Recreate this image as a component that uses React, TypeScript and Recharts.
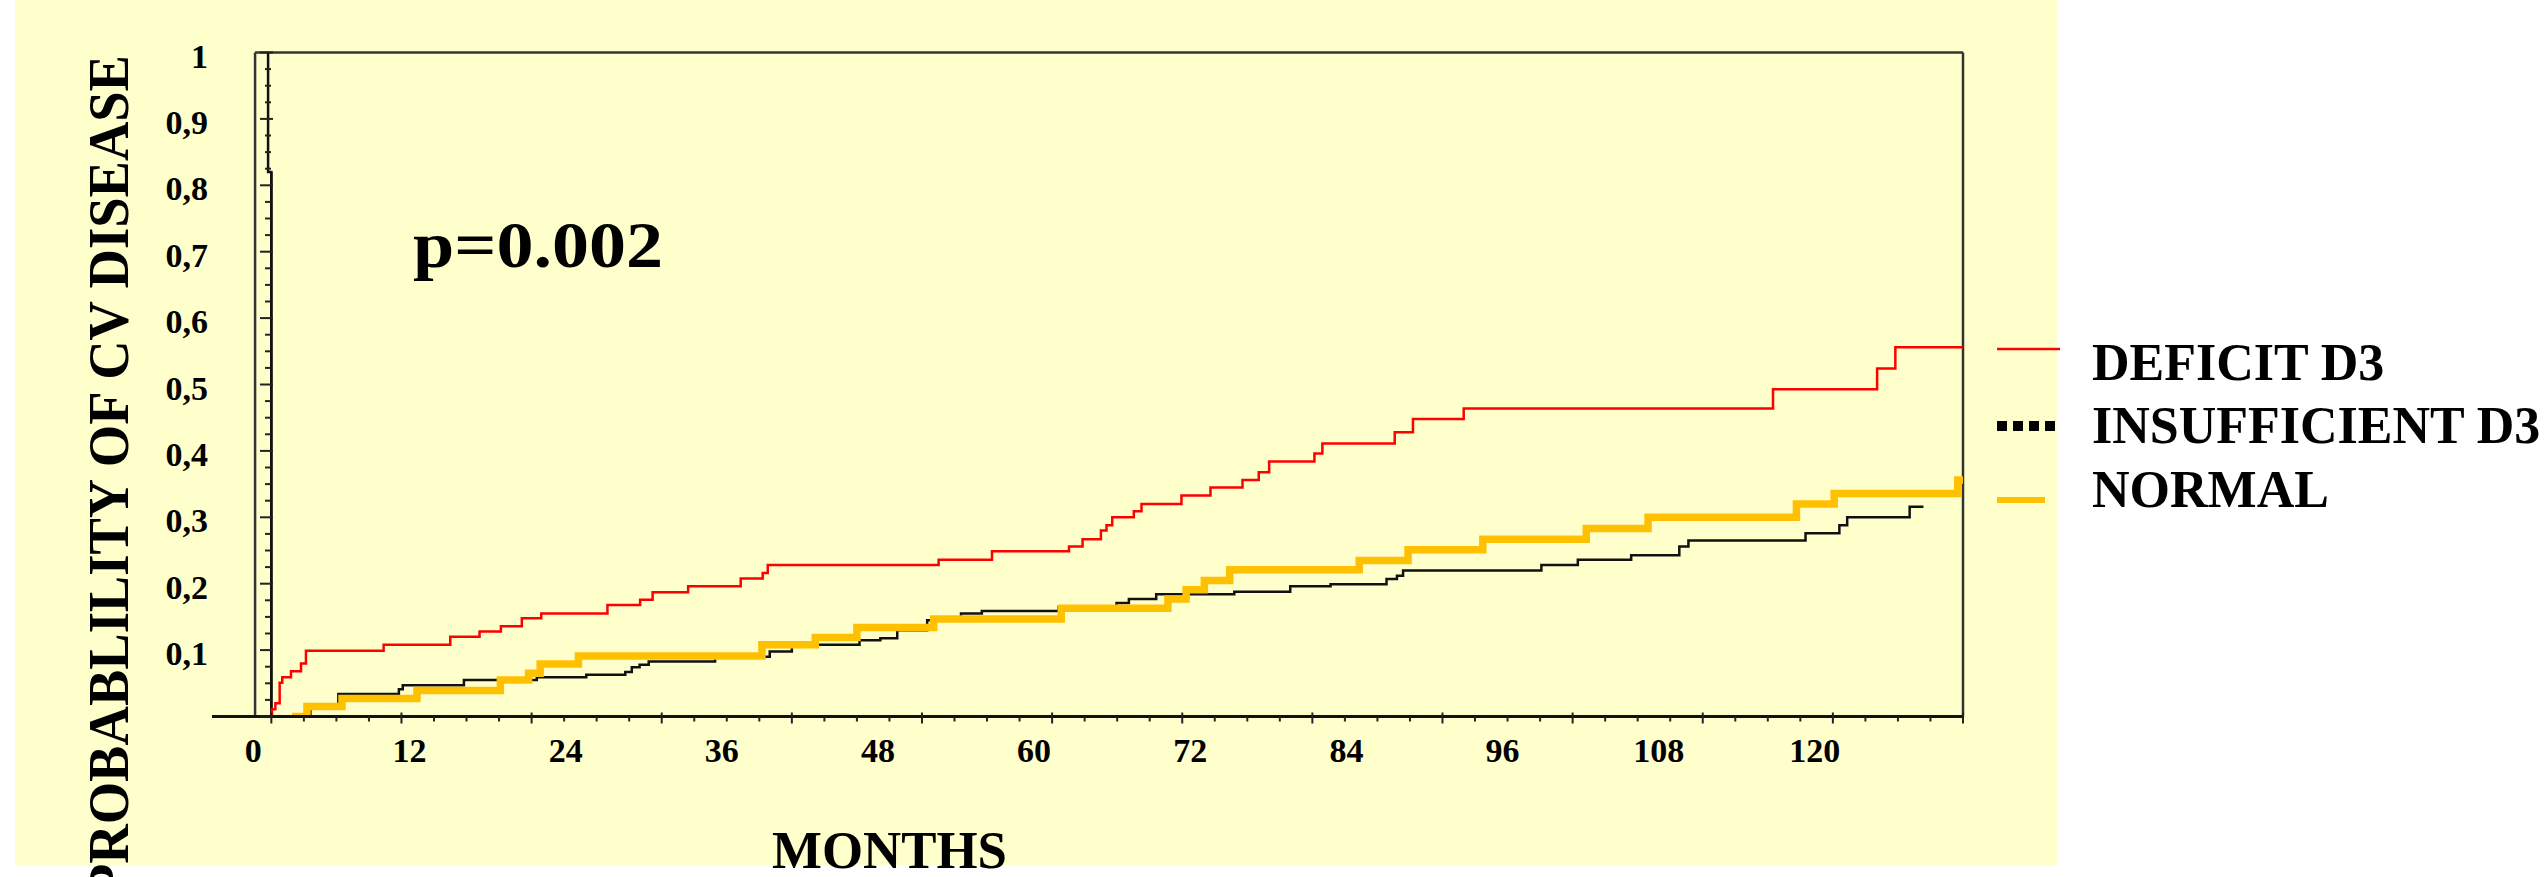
import React from "react";
import { LineChart, Line, XAxis, YAxis, ReferenceLine } from "recharts";

// ---------- data ----------
const DEFICIT_MONTHS = [0, 0.05, 0.31, 0.64, 0.84, 1.51, 2.28, 2.66, 8.63, 13.75, 16.0, 17.64, 19.25, 20.74, 25.83, 28.34, 29.3, 32.03, 36.07, 37.76, 38.15, 51.28, 55.38, 61.3, 62.34, 63.75, 64.18, 64.62, 66.28, 66.87, 69.94, 72.17, 74.63, 75.88, 76.68, 80.16, 80.77, 86.33, 87.73, 91.63, 115.4, 123.4, 124.8, 130];
const DEFICIT_PROB = [0, 0.011, 0.02, 0.051, 0.059, 0.068, 0.08, 0.099, 0.108, 0.12, 0.128, 0.136, 0.148, 0.155, 0.168, 0.176, 0.187, 0.196, 0.208, 0.216, 0.228, 0.236, 0.249, 0.256, 0.267, 0.28, 0.288, 0.3, 0.309, 0.32, 0.333, 0.345, 0.356, 0.368, 0.384, 0.396, 0.411, 0.428, 0.448, 0.464, 0.493, 0.524, 0.556, 0.556];

const INSUFF_MONTHS = [-0.25, -0.25, 0, 0, 3.0, 5.15, 9.8, 10.1, 14.8, 20.4, 24.2, 27.2, 27.7, 28.3, 29.0, 34.1, 38.3, 40.0, 45.2, 46.8, 48.1, 50.4, 53.0, 54.6, 60.5, 64.95, 65.9, 68.0, 74.0, 78.3, 81.4, 85.7, 86.5, 86.97, 97.6, 100.4, 104.5, 108.2, 108.9, 117.9, 120.5, 121.1, 125.9, 126.96];
const INSUFF_PROB = [1, 0.82, 0.82, 0, 0.015, 0.034, 0.041, 0.047, 0.055, 0.059, 0.063, 0.067, 0.074, 0.078, 0.083, 0.09, 0.098, 0.108, 0.115, 0.118, 0.13, 0.145, 0.155, 0.159, 0.165, 0.171, 0.177, 0.184, 0.188, 0.196, 0.199, 0.207, 0.212, 0.22, 0.228, 0.236, 0.243, 0.256, 0.265, 0.276, 0.288, 0.3, 0.316, 0.316];

const NORMAL_MONTHS = [1.59, 2.74, 5.43, 11.19, 17.6, 19.77, 20.66, 23.6, 37.7, 41.8, 45.0, 50.9, 60.7, 68.9, 70.3, 71.7, 73.65, 83.6, 87.35, 93.1, 101.05, 105.8, 117.2, 120.1, 129.6, 130];
const NORMAL_PROB = [0, 0.015, 0.027, 0.039, 0.055, 0.065, 0.079, 0.091, 0.108, 0.119, 0.134, 0.147, 0.163, 0.177, 0.191, 0.205, 0.221, 0.235, 0.251, 0.267, 0.283, 0.3, 0.32, 0.336, 0.356, 0.356];

const X_LABEL_VALUES = [0, 12, 24, 36, 48, 60, 72, 84, 96, 108, 120];
const X_LABELS = ["0", "12", "24", "36", "48", "60", "72", "84", "96", "108", "120"];
const Y_LABEL_VALUES = [0.1, 0.2, 0.3, 0.4, 0.5, 0.6, 0.7, 0.8, 0.9, 1];
const Y_LABELS = ["0,1", "0,2", "0,3", "0,4", "0,5", "0,6", "0,7", "0,8", "0,9", "1"];

const SERIES_NAMES = ["DEFICIT D3", "INSUFFICIENT D3", "NORMAL"];

// ---------- build series ----------
const zip = (ms: number[], ps: number[]) => ms.map((m, i) => ({ m, v: ps[i] }));
const deficitData = zip(DEFICIT_MONTHS, DEFICIT_PROB);
const insuffData = zip(INSUFF_MONTHS, INSUFF_PROB);
const normalData = zip(NORMAL_MONTHS, NORMAL_PROB);

// ---------- layout ----------
const W = 2548;
const H = 877;
const X_MIN = -4.56;
const X_MAX = 130;
const FRAME_X = -1.25;
const PLOT_TOP = 52.5;
const PLOT_BOTTOM = 716.5;
const XAXIS_H = 60;
const FONT = "'Liberation Serif', 'Times New Roman', Times, serif";

const minorX: number[] = [];
for (let k = 0; k <= 52; k++) minorX.push(k * 2.5);
const X_TICKS = Array.from(new Set([...minorX, ...X_LABEL_VALUES])).sort((a, b) => a - b);
const Y_TICKS: number[] = [];
for (let k = 0; k <= 40; k++) Y_TICKS.push(Math.round(k * 25) / 1000);

const XTick = (props: any) => {
  const { x, payload } = props;
  const v = payload.value as number;
  const k = Math.round(v * 10);
  const out: any[] = [];
  if (k % 25 === 0) {
    const major = k % 100 === 0;
    out.push(
      <line key="t" x1={x} x2={x} y1={major ? PLOT_BOTTOM - 4 : PLOT_BOTTOM} y2={PLOT_BOTTOM + (major ? 7 : 5)} stroke="#222" strokeWidth={2} />
    );
  }
  const idx = X_LABEL_VALUES.indexOf(v);
  if (idx >= 0) {
    out.push(
      <text key="l" x={x - 18} y={762} textAnchor="middle" fontFamily={FONT} fontWeight={700} fontSize={34} fill="#000">
        {X_LABELS[idx]}
      </text>
    );
  }
  return <g>{out}</g>;
};

const YTick = (props: any) => {
  const { y, payload } = props;
  const v = payload.value as number;
  const major = Math.round(v * 1000) % 100 === 0;
  const idx = Y_LABEL_VALUES.findIndex((t) => Math.abs(t - v) < 1e-6);
  return (
    <g>
      <line x1={major ? 260 : 265} x2={major ? 273 : 271} y1={y} y2={y} stroke="#222" strokeWidth={2} />
      {idx >= 0 && (
        <text x={208} y={y + 15} textAnchor="end" fontFamily={FONT} fontWeight={700} fontSize={34} fill="#000">
          {Y_LABELS[idx]}
        </text>
      )}
    </g>
  );
};

export default function App() {
  return (
    <div style={{ position: "absolute", left: 0, top: 0, width: W, height: H, background: "#fff", overflow: "hidden" }}>
      <div style={{ position: "absolute", left: 15, top: 0, width: 2042, height: 865, background: "#FFFFCC" }} />
      <div style={{ position: "absolute", left: 0, top: 0 }}>
        <LineChart
          width={W}
          height={H}
          margin={{ top: PLOT_TOP, right: W - 1963, bottom: H - PLOT_BOTTOM - XAXIS_H, left: 0 }}
        >
          <XAxis
            type="number"
            dataKey="m"
            domain={[X_MIN, X_MAX]}
            ticks={X_TICKS}
            interval={0}
            height={XAXIS_H}
            allowDataOverflow
            axisLine={{ stroke: "#111", strokeWidth: 3 }}
            tickLine={false}
            tick={(p: any) => <XTick {...p} />}
          />
          <YAxis
            type="number"
            dataKey="v"
            domain={[0, 1]}
            ticks={Y_TICKS}
            interval={0}
            width={212}
            allowDataOverflow
            axisLine={false}
            tickLine={false}
            tick={(p: any) => <YTick {...p} />}
          />
          <ReferenceLine segment={[{ x: FRAME_X, y: 0 }, { x: FRAME_X, y: 1 }]} stroke="#333" strokeWidth={2.5} />
          <ReferenceLine segment={[{ x: FRAME_X, y: 1 }, { x: X_MAX, y: 1 }]} stroke="#333" strokeWidth={2.5} />
          <ReferenceLine x={X_MAX} stroke="#333" strokeWidth={2.5} />
          <ReferenceLine segment={[{ x: 0, y: 0 }, { x: 0, y: 0.82 }]} stroke="#111" strokeWidth={2.5} />
          <Line
            name={SERIES_NAMES[1]}
            data={insuffData}
            dataKey="v"
            type="stepAfter"
            stroke="#111111"
            strokeWidth={2.5}
            dot={false}
            activeDot={false}
            isAnimationActive={false}
            strokeLinejoin="miter"
          />
          <Line
            name={SERIES_NAMES[2]}
            data={normalData}
            dataKey="v"
            type="stepAfter"
            stroke="#FFC000"
            strokeWidth={7.5}
            dot={false}
            activeDot={false}
            isAnimationActive={false}
            strokeLinejoin="miter"
            strokeLinecap="butt"
          />
          <Line
            name={SERIES_NAMES[0]}
            data={deficitData}
            dataKey="v"
            type="stepAfter"
            stroke="#FF0000"
            strokeWidth={2.5}
            dot={false}
            activeDot={false}
            isAnimationActive={false}
            strokeLinejoin="miter"
          />
        </LineChart>
      </div>
      <svg width={W} height={H} style={{ position: "absolute", left: 0, top: 0, pointerEvents: "none" }}>
        <text
          transform="translate(128,476) rotate(-90)"
          textAnchor="middle"
          fontFamily={FONT}
          fontWeight={700}
          fontSize={57}
          textLength={842}
          lengthAdjust="spacingAndGlyphs"
          fill="#000"
        >
          PROBABLILITY OF CV DISEASE
        </text>
        <text x={413} y={267} fontFamily={FONT} fontWeight={700} fontSize={66} textLength={250} lengthAdjust="spacingAndGlyphs" fill="#000">
          p=0.002
        </text>
        <text x={772} y={868} fontFamily={FONT} fontWeight={700} fontSize={53} textLength={235} lengthAdjust="spacingAndGlyphs" fill="#000">
          MONTHS
        </text>
        <line x1={1997} x2={2060} y1={349} y2={349} stroke="#FF0000" strokeWidth={2.5} />
        <line x1={1997} x2={2055} y1={426} y2={426} stroke="#000" strokeWidth={10} strokeDasharray="10 6" />
        <line x1={1997} x2={2045} y1={500} y2={500} stroke="#FFC000" strokeWidth={6} />
        <text x={2092} y={380} fontFamily={FONT} fontWeight={700} fontSize={52} fill="#000">
          {SERIES_NAMES[0]}
        </text>
        <text x={2092} y={443} fontFamily={FONT} fontWeight={700} fontSize={52} fill="#000">
          {SERIES_NAMES[1]}
        </text>
        <text x={2092} y={507} fontFamily={FONT} fontWeight={700} fontSize={52} fill="#000">
          {SERIES_NAMES[2]}
        </text>
      </svg>
    </div>
  );
}
